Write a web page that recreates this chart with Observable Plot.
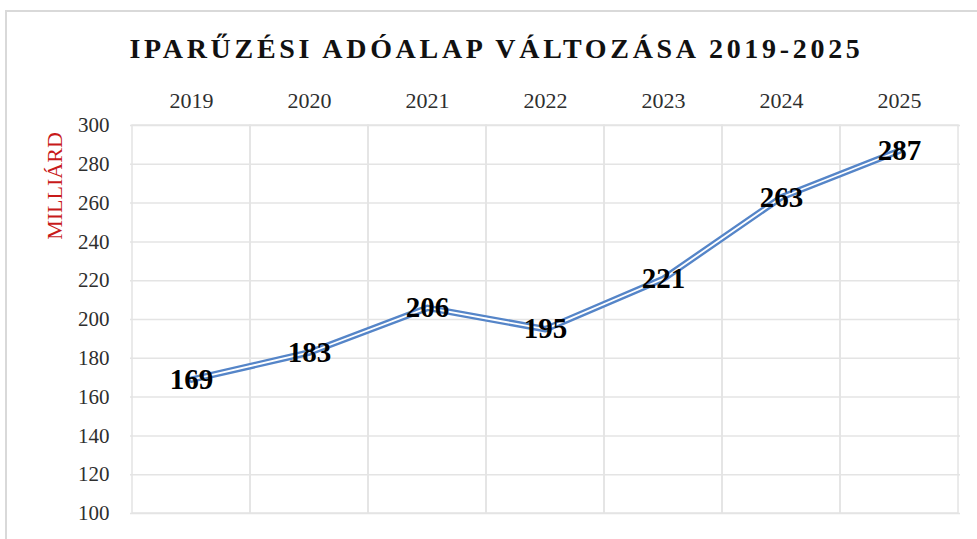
<!DOCTYPE html>
<html><head><meta charset="utf-8">
<script src="https://cdn.jsdelivr.net/npm/d3@7"></script>
<script src="https://cdn.jsdelivr.net/npm/@observablehq/plot@0.6"></script>
<style>
body{margin:0;background:#fff;}
#wrap{position:relative;width:977px;height:539px;overflow:hidden;font-family:"Liberation Serif",serif;background:#fff;}
#frame{position:absolute;left:5px;top:10px;width:2000px;height:2000px;border-left:2px solid #d9d9d9;border-top:2px solid #d9d9d9;}
#title{position:absolute;left:0px;top:0;width:993px;height:80px;box-sizing:border-box;padding-top:34px;text-align:center;font-weight:bold;font-size:28px;letter-spacing:3.7px;line-height:30px;color:#111;}
#ylab{position:absolute;left:55px;top:186px;transform:translate(-50%,-50%) rotate(-90deg);color:#c81a1a;font-size:22px;white-space:nowrap;}
#chart{position:absolute;left:0;top:80px;}
</style></head>
<body>
<div id="wrap">
  <div id="frame"></div>
  <div id="title">IPARŰZÉSI ADÓALAP VÁLTOZÁSA 2019-2025</div>
  <div id="ylab">MILLIÁRD</div>
  <div id="chart"></div>
</div>
<script>
const years = ["2019","2020","2021","2022","2023","2024","2025"];
const values = [169, 183, 206, 195, 221, 263, 287];
const yTicks = [100,120,140,160,180,200,220,240,260,280,300];

const data = years.map((y, i) => ({year: y, value: values[i]}));

const plot = Plot.plot({
  width: 977,
  height: 459,
  marginTop: 45,
  marginBottom: 26,
  marginLeft: 130,
  marginRight: 17,
  style: {fontFamily: "Liberation Serif, serif", background: "transparent"},
  x: {type: "band", domain: years, padding: 0, axis: null},
  y: {domain: [100, 300], axis: null},
  marks: [
    Plot.ruleY(yTicks, {stroke: "#e4e4e4", strokeWidth: 1.5}),
    Plot.barY(years, {x: d => d, y1: 100, y2: 300, fill: "none", stroke: "#e4e4e4", strokeWidth: 1.5}),
    Plot.axisX({anchor: "top", tickSize: 0, tickPadding: 18, fontSize: 22, fill: "#2e2e2e", label: null}),
    Plot.axisY({ticks: yTicks, tickSize: 0, tickPadding: 21, fontSize: 21, fill: "#2e2e2e", label: null}),
    Plot.line(data, {x: "year", y: "value", stroke: "#5585c8", strokeWidth: 6.5, curve: "linear"}),
    Plot.line(data, {x: "year", y: "value", stroke: "#ffffff", strokeWidth: 1.8, curve: "linear"}),
    Plot.text(data, {x: "year", y: "value", text: d => String(d.value), fontSize: 29, fontWeight: "bold", fill: "#000"})
  ]
});
document.getElementById("chart").appendChild(plot);
</script>
</body></html>
